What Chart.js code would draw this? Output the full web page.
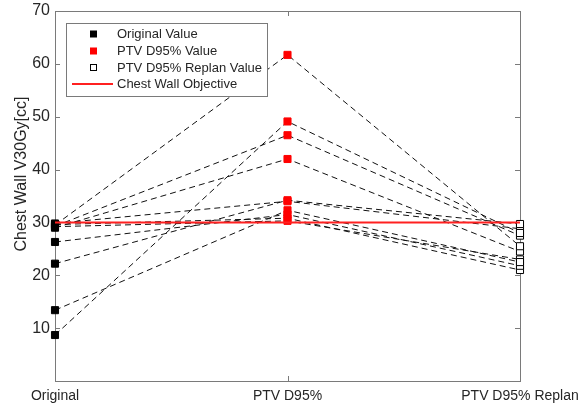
<!DOCTYPE html>
<html>
<head>
<meta charset="utf-8">
<script src="https://cdn.jsdelivr.net/npm/chart.js@4/dist/chart.umd.min.js"></script>
<style>
  html, body { margin: 0; padding: 0; background: #fff; }
</style>
</head>
<body>
<canvas id="chart" width="580" height="406"></canvas>
<script>
const categories = ['Original', 'PTV D95%', 'PTV D95% Replan'];
// one entry per patient
const originalValues = [29.5, 8.7, 29.3, 29.0, 22.2, 29.8, 13.4, 26.3, 29.6, 29.2];
const ptvValues      = [61.7, 49.1, 46.5, 42.0, 34.2, 34.0, 32.3, 31.5, 30.8, 30.3];
const replanValues   = [25.5, 28.0, 27.5, 24.5, 29.7, 28.8, 22.5, 21.8, 21.0, 23.0];
const objectiveValue = 30;
const yTicks = [10, 20, 30, 40, 50, 60, 70];

const yTitle = 'Chest Wall V30Gy[cc]';
const legendItems = ['Original Value', 'PTV D95% Value', 'PTV D95% Replan Value', 'Chest Wall Objective'];

const FONT = '"Liberation Sans", Arial, sans-serif';
const TEXT = '#262626';
const AXIS = '#7a7a7a';
const RED = '#ff2020';

const datasets = originalValues.map((v, i) => ({
  data: [v, ptvValues[i], replanValues[i]],
  borderColor: '#111',
  borderWidth: 1,
  borderDash: [6, 4],
  pointStyle: 'rect',
  pointRadius: 5,
  pointBorderWidth: 1,
  pointBackgroundColor: ['#000', '#ff0000', '#fff'],
  pointBorderColor: ['#000', '#ff0000', '#000'],
  tension: 0,
  clip: false,
  order: 2
}));

datasets.push({
  data: categories.map(() => objectiveValue),
  borderColor: RED,
  borderWidth: 2,
  pointRadius: 0,
  clip: false,
  order: 1
});

const framePlugin = {
  id: 'frame',
  beforeDatasetsDraw(chart) {
    const { ctx, chartArea: a, scales } = chart;
    ctx.save();
    ctx.strokeStyle = AXIS;
    ctx.lineWidth = 1;
    ctx.strokeRect(a.left + 0.5, a.top + 0.5, a.right - a.left, a.bottom - a.top);
    ctx.beginPath();
    yTicks.forEach(v => {
      const y = Math.round(scales.y.getPixelForValue(v)) + 0.5;
      ctx.moveTo(a.left, y); ctx.lineTo(a.left + 5, y);
      ctx.moveTo(a.right, y); ctx.lineTo(a.right - 5, y);
    });
    categories.forEach((c, i) => {
      const x = Math.round(scales.x.getPixelForValue(i)) + 0.5;
      ctx.moveTo(x, a.bottom); ctx.lineTo(x, a.bottom - 5);
      ctx.moveTo(x, a.top); ctx.lineTo(x, a.top + 5);
    });
    ctx.stroke();

    // y axis title, drawn by hand so it sits where the original has it
    ctx.translate(22, 174);
    ctx.rotate(-Math.PI / 2);
    ctx.font = '16px ' + FONT;
    ctx.fillStyle = TEXT;
    ctx.textAlign = 'center';
    ctx.textBaseline = 'middle';
    ctx.fillText(yTitle, 0, 0);
    ctx.restore();
  },
  afterDraw(chart) {
    const { ctx } = chart;
    const x0 = 66, y0 = 23, w = 201, h = 73;
    ctx.save();
    ctx.fillStyle = '#fff';
    ctx.fillRect(x0, y0, w, h);
    ctx.strokeStyle = AXIS;
    ctx.lineWidth = 1;
    ctx.strokeRect(x0 + 0.5, y0 + 0.5, w, h);
    const rows = [34, 51, 67.5, 84];
    ctx.font = '13px ' + FONT;
    ctx.textBaseline = 'middle';
    legendItems.forEach((t, i) => {
      const y = rows[i];
      if (i === 0) { ctx.fillStyle = '#000'; ctx.fillRect(90, y - 3.5, 7, 7); }
      if (i === 1) { ctx.fillStyle = '#ff0000'; ctx.fillRect(90, y - 3.5, 7, 7); }
      if (i === 2) { ctx.strokeStyle = '#000'; ctx.strokeRect(90.5, y - 3, 6, 6); }
      if (i === 3) {
        ctx.strokeStyle = RED; ctx.lineWidth = 2;
        ctx.beginPath(); ctx.moveTo(72, y); ctx.lineTo(113, y); ctx.stroke();
        ctx.lineWidth = 1;
      }
      ctx.fillStyle = TEXT;
      ctx.fillText(t, 117, y + 0.5);
    });
    ctx.restore();
  }
};

new Chart(document.getElementById('chart').getContext('2d'), {
  type: 'line',
  data: { labels: categories, datasets },
  options: {
    responsive: false,
    animation: false,
    devicePixelRatio: 1,
    layout: { padding: { top: 11, right: 60, left: 0, bottom: 0 } },
    plugins: {
      legend: { display: false },
      tooltip: { enabled: false }
    },
    scales: {
      x: {
        type: 'category',
        offset: false,
        grid: { display: false, drawTicks: false },
        border: { display: false },
        ticks: { color: TEXT, font: { family: FONT, size: 14 }, padding: 7, maxRotation: 0 },
        afterFit: s => { s.height = 25; s.paddingLeft = 0; s.paddingRight = 0; }
      },
      y: {
        min: 0,
        max: 70,
        grid: { display: false, drawTicks: false },
        border: { display: false },
        ticks: {
          stepSize: 10,
          color: TEXT,
          font: { family: FONT, size: 16 },
          padding: 5,
          callback: v => (v === 0 ? '' : v)
        },
        afterFit: s => { s.width = 55; s.paddingTop = 0; s.paddingBottom = 0; }
      }
    }
  },
  plugins: [framePlugin]
});
</script>
</body>
</html>
